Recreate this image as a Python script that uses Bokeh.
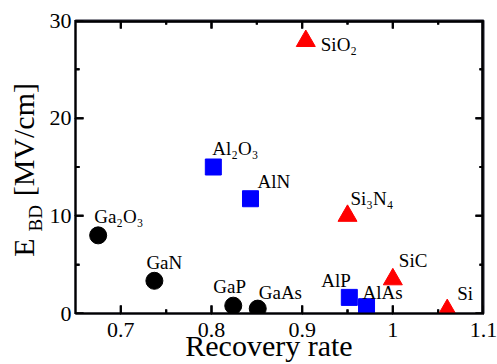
import math
from bokeh.plotting import figure
from bokeh.layouts import row
from bokeh.models import Range1d, FixedTicker, ColumnDataSource
from bokeh.core.properties import value
from bokeh.embed import file_html
from bokeh.resources import INLINE

# ---- data ----
ga_names = ["Ga₂O₃", "GaN", "GaP", "GaAs"]
ga_rate = [0.675, 0.737, 0.824, 0.851]
ga_ebd = [8.0, 3.35, 0.8, 0.5]

al_names = ["Al₂O₃", "AlN", "AlP", "AlAs"]
al_rate = [0.802, 0.843, 0.952, 0.971]
al_ebd = [15.0, 11.75, 1.65, 0.7]

si_names = ["SiO₂", "Si₃N₄", "SiC", "Si"]
si_rate = [0.904, 0.950, 1.000, 1.060]
si_ebd = [27.9, 10.0, 3.5, 0.35]

xticks = [0.7, 0.8, 0.9, 1.0, 1.1]
xtick_labels = ["0.7", "0.8", "0.9", "1", "1.1"]
xminor = [0.75, 0.85, 0.95, 1.05]
yticks = [0, 10, 20, 30]
ytick_labels = ["0", "10", "20", "30"]
yminor = [5, 15, 25]

x_title = "Recovery rate"
y_title_parts = ["E", "BD", "[MV/cm]"]

# label offsets (pixels, label left/baseline relative to marker)
ga_dx = [-4, -8, -20, 1]
ga_dy = [-19, -18, -19, -16]
al_dx = [-1, 7, -28, -4]
al_dy = [-19, -17, -17, -14]
si_dx = [15, 3, 6, 10]
si_dy = [3, -17, -19, -17]

FONT = "Liberation Serif"
W_TITLE, W_MAIN, H = 46, 451, 364
B_LEFT, B_RIGHT, B_TOP, B_BOTTOM = 28, 14, 20, 51
FRAME_W = W_MAIN - B_LEFT - B_RIGHT
FRAME_H = H - B_TOP - B_BOTTOM
INKS = ["#404040", "#1c1c2e", "#000000"]

y_range = Range1d(0, 30)
x_range = Range1d(0.65, 1.1)

# ---- narrow panel holding the rotated y-axis title (shares the y scale) ----
yt_fig = figure(width=W_TITLE, height=H, x_range=Range1d(0, W_TITLE), y_range=y_range,
                x_axis_type=None, y_axis_type=None,
                output_backend="svg", toolbar_location=None,
                min_border_left=0, min_border_right=0,
                min_border_top=B_TOP, min_border_bottom=B_BOTTOM)
yt_fig.grid.visible = False
yt_fig.outline_line_color = None
yt_src = ColumnDataSource(dict(x=[22.5, 34.5, 23], y=[6.75, 9.75, 17.8], t=y_title_parts,
                               fs=["30px", "19px", "30px"]))
yt_fig.text("x", "y", text="t", source=yt_src, angle=math.pi / 2,
            text_font=value(FONT), text_font_size="fs", text_color="black",
            text_align="center", text_baseline="middle")

# ---- main plot ----
p = figure(width=W_MAIN, height=H, x_range=x_range, y_range=y_range,
           output_backend="svg", toolbar_location=None,
           min_border_left=B_LEFT, min_border_right=B_RIGHT,
           min_border_top=B_TOP, min_border_bottom=B_BOTTOM)
p.xgrid.visible = False
p.ygrid.visible = False
p.outline_line_color = "#1c1c2e"
p.outline_line_width = 2


def style(ax, ticks, labels):
    ax.ticker = FixedTicker(ticks=ticks, minor_ticks=[])
    ax.major_label_overrides = dict(zip(ticks, labels))
    ax.axis_line_color = "black"
    ax.axis_line_width = 2
    ax.major_tick_line_color = "black"
    ax.major_tick_line_width = 1
    ax.major_tick_in = 0
    ax.major_tick_out = 1
    ax.minor_tick_line_color = "black"
    ax.minor_tick_in = 0
    ax.minor_tick_out = 0
    ax.major_label_text_font = FONT
    ax.major_label_text_color = "black"
    ax.major_label_text_font_size = "22px"


for ax in p.below:
    style(ax, xticks, xtick_labels)
    ax.major_label_standoff = 8
    ax.axis_label = x_title + "\u2002\u2009"
    ax.axis_label_text_font = FONT
    ax.axis_label_text_font_size = "30px"
    ax.axis_label_text_font_style = "normal"
    ax.axis_label_text_color = "black"
    ax.axis_label_standoff = -11
for ax in p.left:
    style(ax, yticks, ytick_labels)
    ax.major_label_standoff = 3

# inward ticks on all four sides and the top/right frame edges,
# drawn as segments through the plot scales
x0, x1 = x_range.start, x_range.end
y0, y1 = y_range.start, y_range.end
px_x = (x1 - x0) / FRAME_W
px_y = (y1 - y0) / FRAME_H

tx0, ty0, tx1, ty1 = [], [], [], []
for ticks, L in ((xticks, 8), (xminor, 4)):
    for t in ticks:
        tx0 += [t, t]
        tx1 += [t, t]
        ty0 += [y0, y1]
        ty1 += [y0 + L * px_y, y1 - L * px_y]
for ticks, L in ((yticks, 8), (yminor, 4)):
    for t in ticks:
        tx0 += [x0, x1]
        tx1 += [x0 + L * px_x, x1 - L * px_x]
        ty0 += [t, t]
        ty1 += [t, t]
tick_src = ColumnDataSource(dict(x0=tx0, y0=ty0, x1=tx1, y1=ty1))
edge_src = ColumnDataSource(dict(x0=[x0, x1], y0=[y1, y0], x1=[x1, x1], y1=[y1, y1]))

for ink in INKS:
    p.segment("x0", "y0", "x1", "y1", source=tick_src, line_color=ink, line_width=2)
    p.segment("x0", "y0", "x1", "y1", source=edge_src, line_color=ink, line_width=4)

ga_src = ColumnDataSource(dict(x=ga_rate, y=ga_ebd, t=ga_names, dx=ga_dx, dy=ga_dy))
al_src = ColumnDataSource(dict(x=al_rate, y=al_ebd, t=al_names, dx=al_dx, dy=al_dy))
si_src = ColumnDataSource(dict(x=si_rate, y=si_ebd, t=si_names, dx=si_dx, dy=si_dy))

p.scatter("x", "y", source=ga_src, marker="circle", size=17,
          fill_color="black", line_color="black")
p.scatter("x", "y", source=al_src, marker="square", size=16,
          fill_color="#0000ff", line_color="#0000ff")
p.scatter("x", "y", source=si_src, marker="triangle", size=19,
          fill_color="#ff0000", line_color="#ff0000")

for src in (ga_src, al_src, si_src):
    p.text("x", "y", text="t", source=src, x_offset="dx", y_offset="dy",
           text_font=value(FONT), text_font_size="19px", text_color="black",
           text_align="left", text_baseline="alphabetic")

layout = row(yt_fig, p, spacing=0)
open("out.html", "w").write(file_html(layout, INLINE))
